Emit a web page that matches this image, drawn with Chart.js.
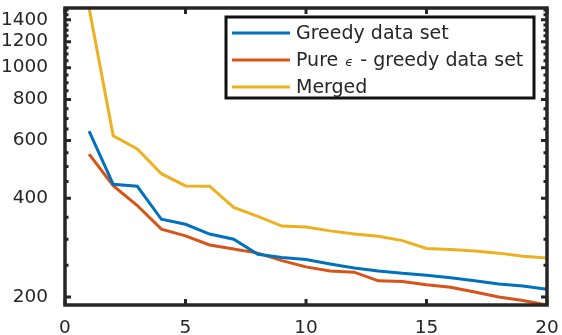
<!DOCTYPE html>
<html>
<head>
<meta charset="utf-8">
<script src="https://cdn.jsdelivr.net/npm/chart.js@4.4.0/dist/chart.umd.min.js"></script>
<style>
html, body { margin: 0; padding: 0; background: #fff; }
</style>
</head>
<body>
<canvas id="chart" width="562" height="335"></canvas>
<script>
const steps = [1, 2, 3, 4, 5, 6, 7, 8, 9, 10, 11, 12, 13, 14, 15, 16, 17, 18, 19, 20];
const greedy = [640, 441, 435, 345, 333, 311, 300, 270, 264, 260, 252, 245, 240, 236, 233, 229, 224, 219, 216, 211];
const pureEps = [545, 437, 380, 322, 307, 288, 280, 272, 258, 247, 240, 238, 224, 223, 218, 214, 207, 200, 195, 189];
const merged = [1520, 620, 565, 475, 436, 435, 375, 352, 329, 327, 318, 311, 306, 297, 281, 279, 276, 272, 266, 263];

const seriesNames = ['Greedy data set', 'Pure \u03F5 - greedy data set', 'Merged'];
const xTicks = [0, 5, 10, 15, 20];
const yTicks = [200, 400, 600, 800, 1000, 1200, 1400];
const yMinorTicks = [250, 300, 350, 450, 500, 550, 650, 700, 750, 850, 900, 950, 1050, 1100, 1150, 1250, 1300, 1350, 1450, 1500];

const FONT = '"DejaVu Sans", sans-serif';
const INK = '#262626';

function pts(ys) {
    return steps.map((s, i) => ({ x: s, y: ys[i] }));
}

// draws a label, with the epsilon set smaller and italic like the TeX interpreter does
function drawLabel(ctx, text, x, y) {
    const parts = text.split('\u03F5');
    let cx = x;
    parts.forEach((p, i) => {
        if (i > 0) {
            ctx.font = 'italic 13px ' + FONT;
            ctx.fillText('\u03F5', cx + 1, y + 2);
            cx += ctx.measureText('\u03F5').width + 2;
        }
        ctx.font = '19px ' + FONT;
        ctx.fillText(p, cx, y);
        cx += ctx.measureText(p).width;
    });
}

// MATLAB-style box: inward ticks on all four sides plus the legend inside the axes
const matlabBox = {
    id: 'matlabBox',
    afterDraw(chart) {
        const { ctx, chartArea: a, scales: { x, y } } = chart;
        ctx.save();
        ctx.strokeStyle = INK;
        ctx.lineWidth = 3;
        ctx.beginPath();
        xTicks.forEach(v => {
            const px = x.getPixelForValue(v);
            ctx.moveTo(px, a.bottom); ctx.lineTo(px, a.bottom - 6);
            ctx.moveTo(px, a.top); ctx.lineTo(px, a.top + 6);
        });
        yTicks.forEach(v => {
            const py = y.getPixelForValue(v);
            ctx.moveTo(a.left, py); ctx.lineTo(a.left + 6, py);
            ctx.moveTo(a.right, py); ctx.lineTo(a.right - 6, py);
        });
        yMinorTicks.forEach(v => {
            const py = y.getPixelForValue(v);
            if (py < a.top || py > a.bottom) return;
            ctx.moveTo(a.left, py); ctx.lineTo(a.left + 3.5, py);
            ctx.moveTo(a.right, py); ctx.lineTo(a.right - 3.5, py);
        });
        ctx.stroke();
        ctx.lineWidth = 3.5;
        ctx.strokeRect(a.left, a.top, a.right - a.left, a.bottom - a.top);

        // legend
        const bx = 226, by = 17, bw = 308, bh = 81;
        ctx.fillStyle = '#fff';
        ctx.fillRect(bx, by, bw, bh);
        ctx.lineWidth = 3;
        ctx.strokeStyle = '#111';
        ctx.strokeRect(bx, by, bw, bh);
        ctx.textBaseline = 'middle';
        ctx.textAlign = 'left';
        chart.data.datasets.forEach((ds, i) => {
            const ry = by + 16 + i * 27;
            ctx.strokeStyle = ds.borderColor;
            ctx.lineWidth = 3;
            ctx.beginPath();
            ctx.moveTo(bx + 6, ry);
            ctx.lineTo(bx + 64, ry);
            ctx.stroke();
            ctx.fillStyle = INK;
            drawLabel(ctx, ds.label, bx + 70, ry + 1);
        });
        ctx.restore();
    }
};

function noPad(s) {
    s.paddingTop = 0;
    s.paddingBottom = 0;
    s.paddingLeft = 0;
    s.paddingRight = 0;
}

new Chart(document.getElementById('chart'), {
    type: 'line',
    data: {
        datasets: [
            { label: seriesNames[0], data: pts(greedy), borderColor: '#0072BD' },
            { label: seriesNames[1], data: pts(pureEps), borderColor: '#D95319' },
            { label: seriesNames[2], data: pts(merged), borderColor: '#EDB120' }
        ]
    },
    options: {
        responsive: false,
        animation: false,
        devicePixelRatio: 1,
        layout: { padding: { top: 8, right: 15, left: 0, bottom: 0 } },
        elements: {
            line: { borderWidth: 3, tension: 0 },
            point: { radius: 0 }
        },
        plugins: {
            legend: { display: false },
            tooltip: { enabled: false }
        },
        scales: {
            x: {
                type: 'linear',
                min: 0,
                max: 20,
                grid: { display: false },
                border: { display: false },
                afterBuildTicks: s => { s.ticks = xTicks.map(v => ({ value: v })); },
                afterFit: s => { s.height = 30; noPad(s); },
                ticks: {
                    padding: 4,
                    maxRotation: 0,
                    color: INK,
                    font: { family: FONT, size: 18.5 },
                    callback: v => String(v)
                }
            },
            y: {
                type: 'logarithmic',
                min: 189,
                max: 1520,
                grid: { display: false },
                border: { display: false },
                afterBuildTicks: s => { s.ticks = yTicks.map(v => ({ value: v })); },
                afterFit: s => { s.width = 65; noPad(s); },
                ticks: {
                    padding: 9,
                    color: INK,
                    font: { family: FONT, size: 18.5 },
                    callback: v => String(v)
                }
            }
        }
    },
    plugins: [matlabBox]
});
</script>
</body>
</html>
